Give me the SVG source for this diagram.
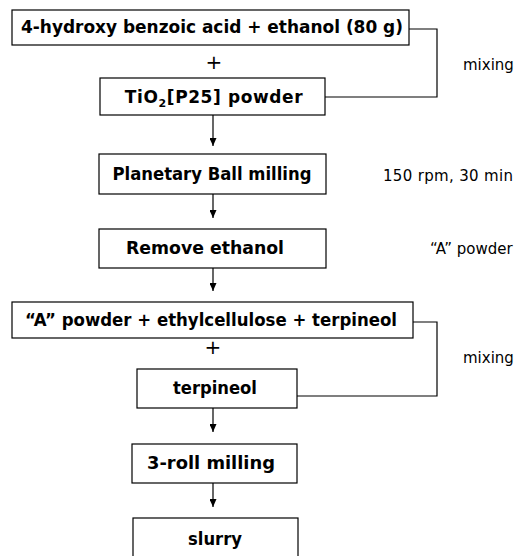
<svg xmlns="http://www.w3.org/2000/svg" width="519" height="556" viewBox="0 0 519 556">
<defs>
<marker id="ah" markerWidth="8" markerHeight="7" refX="8" refY="3.5" orient="auto" markerUnits="userSpaceOnUse" viewBox="0 0 8 7">
<path d="M0,0 L8,3.5 L0,7 Z" fill="#000"/>
</marker>
<style>
.box{fill:#fff;stroke:#000;stroke-width:1.2}
.t{font-family:"DejaVu Sans","Liberation Sans",sans-serif;font-weight:bold;font-size:17px;fill:#000;text-anchor:middle}
.n{font-family:"DejaVu Sans","Liberation Sans",sans-serif;font-size:15px;fill:#000}
.c{fill:none;stroke:#000;stroke-width:1.2}
.p{font-family:"DejaVu Sans","Liberation Sans",sans-serif;font-size:20px;fill:#000;text-anchor:middle}
</style>
</defs>
<rect width="519" height="556" fill="#fff"/>
<g id="connectors">
<path class="c" d="M409,29 H437 V97 H325"/>
<path class="c" d="M413,322 H437 V396 H297"/>
<line class="c" x1="213" y1="115" x2="213" y2="146" marker-end="url(#ah)"/>
<line class="c" x1="213" y1="194" x2="213" y2="218" marker-end="url(#ah)"/>
<line class="c" x1="213" y1="268" x2="213" y2="291" marker-end="url(#ah)"/>
<line class="c" x1="213" y1="408" x2="213" y2="432" marker-end="url(#ah)"/>
<line class="c" x1="213" y1="483" x2="213" y2="507" marker-end="url(#ah)"/>
</g>
<g id="n1"><rect class="box" x="12" y="10" width="397" height="35"/><text class="t" x="212" y="33" textLength="382" lengthAdjust="spacingAndGlyphs">4-hydroxy benzoic acid + ethanol (80 g)</text></g>
<g id="plus1"><text class="p" x="214" y="69">+</text></g>
<g id="n2"><rect class="box" x="100" y="78" width="225" height="37"/><text class="t" x="214" y="103" letter-spacing="0.6">TiO<tspan font-size="11" dy="4">2</tspan><tspan dy="-4">[P25] powder</tspan></text></g>
<g id="mix1"><text class="n" x="463" y="70">mixing</text></g>
<g id="n3"><rect class="box" x="99" y="154" width="227" height="40"/><text class="t" x="212" y="180" textLength="199" lengthAdjust="spacingAndGlyphs">Planetary Ball milling</text></g>
<g id="cond1"><text class="n" x="383" y="181" textLength="130">150 rpm, 30 min</text></g>
<g id="n4"><rect class="box" x="99" y="229" width="227" height="39"/><text class="t" x="205" y="254" textLength="158" lengthAdjust="spacingAndGlyphs">Remove ethanol</text></g>
<g id="cond2"><text class="n" x="430" y="254">“A” powder</text></g>
<g id="n5"><rect class="box" x="12" y="302" width="401" height="36"/><text class="t" x="211" y="326" textLength="372" lengthAdjust="spacingAndGlyphs">“A” powder + ethylcellulose + terpineol</text></g>
<g id="plus2"><text class="p" x="213" y="354">+</text></g>
<g id="mix2"><text class="n" x="463" y="363">mixing</text></g>
<g id="n6"><rect class="box" x="137" y="369" width="160" height="39"/><text class="t" x="215" y="394" textLength="84" lengthAdjust="spacingAndGlyphs">terpineol</text></g>
<g id="n7"><rect class="box" x="132" y="444" width="165" height="39"/><text class="t" x="211" y="469" textLength="128" lengthAdjust="spacingAndGlyphs">3-roll milling</text></g>
<g id="n8"><rect class="box" x="133" y="518" width="165" height="45"/><text class="t" x="215" y="545" textLength="54" lengthAdjust="spacingAndGlyphs">slurry</text></g>
</svg>
